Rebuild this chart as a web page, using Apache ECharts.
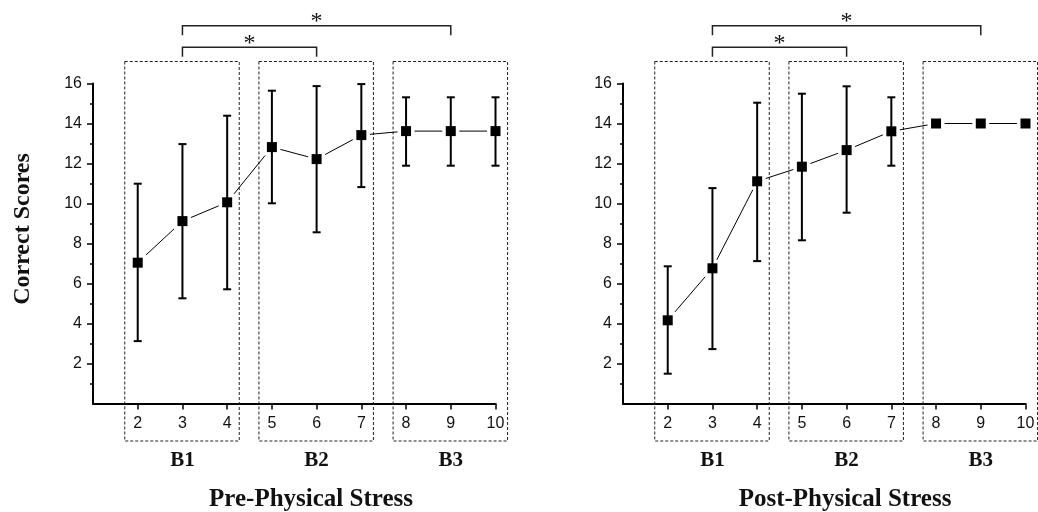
<!DOCTYPE html>
<html>
<head>
<meta charset="utf-8">
<script src="https://cdn.jsdelivr.net/npm/echarts@6/dist/echarts.min.js"></script>
<style>html,body{margin:0;padding:0;background:#fff;}#c{width:1038px;height:512px;}</style>
</head>
<body>
<div id="c"></div>
<script>
// ---- data ----
const xValues = [2, 3, 4, 5, 6, 7, 8, 9, 10];
const preMean  = [7.04, 9.12, 10.06, 12.82, 12.22, 13.42, 13.62, 13.62, 13.62];
const preUpper = [10.99, 12.97, 14.39, 15.64, 15.87, 15.97, 15.31, 15.31, 15.31];
const preLower = [3.12, 5.26, 5.71, 10.01, 8.56, 10.82, 11.89, 11.89, 11.89];
const postMean  = [4.16, 6.76, 11.11, 11.84, 12.67, 13.61, 14.0, 14.0, 14.0];
const postUpper = [6.86, 10.77, 15.04, 15.49, 15.86, 15.31, null, null, null];
const postLower = [1.49, 2.72, 7.12, 8.16, 9.54, 11.89, null, null, null];
const blockNames = ['B1', 'B2', 'B3'];
const blockStart = [2, 5, 8];
const blockEnd   = [4, 7, 10];
const bracketFrom = [3, 3];
const bracketTo   = [6, 9];
const yTickValues = [2, 4, 6, 8, 10, 12, 14, 16];
const xTickValues = [2, 3, 4, 5, 6, 7, 8, 9, 10];
const panelTitles = ['Pre-Physical Stress', 'Post-Physical Stress'];
const yAxisTitle = 'Correct Scores';

// ---- styling / layout constants ----
const SERIF = '"Liberation Serif", "DejaVu Serif", serif';
const SANS = '"Liberation Sans", Arial, sans-serif';
const INK = '#000';

const chart = echarts.init(document.getElementById('c'), null, {renderer: 'canvas'});

function xAxisDef(gi) {
  return {
    type: 'value', gridIndex: gi, min: 1, max: 10, interval: 1,
    axisLine: {show: true, onZero: false, lineStyle: {color: INK, width: 2}},
    axisTick: {show: true, length: 6, lineStyle: {color: INK, width: 1.5}, customValues: xTickValues},
    axisLabel: {show: true, margin: 12, fontFamily: SANS, fontSize: 16, color: '#111', customValues: xTickValues},
    splitLine: {show: false}
  };
}
function yAxisDef(gi) {
  return {
    type: 'value', gridIndex: gi, min: 0, max: 16, interval: 2,
    axisLine: {show: true, onZero: false, lineStyle: {color: INK, width: 2}},
    axisTick: {show: true, length: 6, lineStyle: {color: INK, width: 1.5}, customValues: yTickValues},
    minorTick: {show: true, splitNumber: 2, length: 3, lineStyle: {color: INK, width: 1.5}},
    axisLabel: {show: true, margin: 11, fontFamily: SANS, fontSize: 16, color: '#111', customValues: yTickValues},
    splitLine: {show: false}, minorSplitLine: {show: false}
  };
}

function errorData(lower, upper) {
  const out = [];
  xValues.forEach((x, i) => { if (lower[i] != null && upper[i] != null) out.push([x, lower[i], upper[i]]); });
  return out;
}
function renderError(params, api) {
  const x = api.value(0), lo = api.value(1), hi = api.value(2);
  const pHi = api.coord([x, hi]), pLo = api.coord([x, lo]);
  const cap = 4;
  const st = {stroke: INK, lineWidth: 2};
  return {type: 'group', children: [
    {type: 'line', shape: {x1: pHi[0], y1: pHi[1], x2: pLo[0], y2: pLo[1]}, style: st},
    {type: 'line', shape: {x1: pHi[0] - cap, y1: pHi[1], x2: pHi[0] + cap, y2: pHi[1]}, style: st},
    {type: 'line', shape: {x1: pLo[0] - cap, y1: pLo[1], x2: pLo[0] + cap, y2: pLo[1]}, style: st}
  ]};
}
function renderBlock(params, api) {
  const s = api.value(0), e = api.value(1);
  const name = blockNames[params.dataIndex];
  const left = api.coord([s - 0.29, 0])[0];
  const right = api.coord([e + 0.27, 0])[0];
  const top = api.coord([s, 16])[1] - 22;
  const base = api.coord([s, 0])[1];
  const bottom = base + 37.5;
  const mid = api.coord([(s + e) / 2, 0])[0];
  return {type: 'group', children: [
    {type: 'rect', shape: {x: left, y: top, width: right - left, height: bottom - top},
     style: {fill: 'none', stroke: '#222', lineWidth: 1, lineDash: [3, 2]}},
    {type: 'text', x: mid, y: base + 57,
     style: {text: name, fill: '#111', font: 'bold 21px ' + SERIF, align: 'center', verticalAlign: 'middle'}}
  ]};
}
function renderBracket(params, api) {
  const a = api.value(0), b = api.value(1);
  const lvl = params.dataIndex;
  const top = api.coord([a, 16])[1];
  const y = top - 36.2 - lvl * 21.6;
  const xa = api.coord([a, 16])[0], xb = api.coord([b, 16])[0];
  const st = {stroke: '#222', lineWidth: 1.5, fill: 'none'};
  return {type: 'group', children: [
    {type: 'polyline', shape: {points: [[xa, y + 9.5], [xa, y], [xb, y], [xb, y + 9.5]]}, style: st},
    {type: 'text', x: (xa + xb) / 2, y: y + 8,
     style: {text: '*', fill: '#111', font: '24px ' + SERIF, align: 'center', verticalAlign: 'bottom'}}
  ]};
}

function panelSeries(gi, mean, lower, upper) {
  const pts = xValues.map((x, i) => [x, mean[i]]);
  return [
    {type: 'line', xAxisIndex: gi, yAxisIndex: gi, data: pts, showSymbol: false, symbol: 'none',
     lineStyle: {color: INK, width: 1}, z: 2, silent: true},
    {type: 'scatter', xAxisIndex: gi, yAxisIndex: gi, data: pts, symbol: 'rect', symbolSize: 17,
     itemStyle: {color: '#fff', opacity: 1}, z: 3, silent: true},
    {type: 'custom', xAxisIndex: gi, yAxisIndex: gi, data: errorData(lower, upper), renderItem: renderError,
     encode: {x: 0, y: [1, 2]}, z: 4, clip: false, silent: true},
    {type: 'scatter', xAxisIndex: gi, yAxisIndex: gi, data: pts, symbol: 'rect', symbolSize: 10,
     itemStyle: {color: INK, opacity: 1}, z: 5, silent: true},
    {type: 'custom', xAxisIndex: gi, yAxisIndex: gi, data: blockStart.map((s, i) => [s, blockEnd[i]]),
     renderItem: renderBlock, encode: {x: [0, 1]}, z: 1, clip: false, silent: true},
    {type: 'custom', xAxisIndex: gi, yAxisIndex: gi, data: bracketFrom.map((a, i) => [a, bracketTo[i]]),
     renderItem: renderBracket, encode: {x: [0, 1]}, z: 1, clip: false, silent: true}
  ];
}

chart.setOption({
  animation: false,
  backgroundColor: '#fff',
  grid: [
    {left: 93, top: 83.5, width: 402.5, height: 320},
    {left: 623, top: 83.5, width: 402.5, height: 320}
  ],
  xAxis: [xAxisDef(0), xAxisDef(1)],
  yAxis: [yAxisDef(0), yAxisDef(1)],
  series: [].concat(panelSeries(0, preMean, preLower, preUpper), panelSeries(1, postMean, postLower, postUpper)),
  graphic: [
    {type: 'text', x: 311, y: 500, style: {text: panelTitles[0], fill: '#111', font: 'bold 25px ' + SERIF, align: 'center', verticalAlign: 'middle'}},
    {type: 'text', x: 845, y: 500, style: {text: panelTitles[1], fill: '#111', font: 'bold 25px ' + SERIF, align: 'center', verticalAlign: 'middle'}},
    {type: 'text', x: 23, y: 229, rotation: Math.PI / 2, style: {text: yAxisTitle, fill: '#111', font: 'bold 24px ' + SERIF, align: 'center', verticalAlign: 'middle'}}
  ]
});
</script>
</body>
</html>
